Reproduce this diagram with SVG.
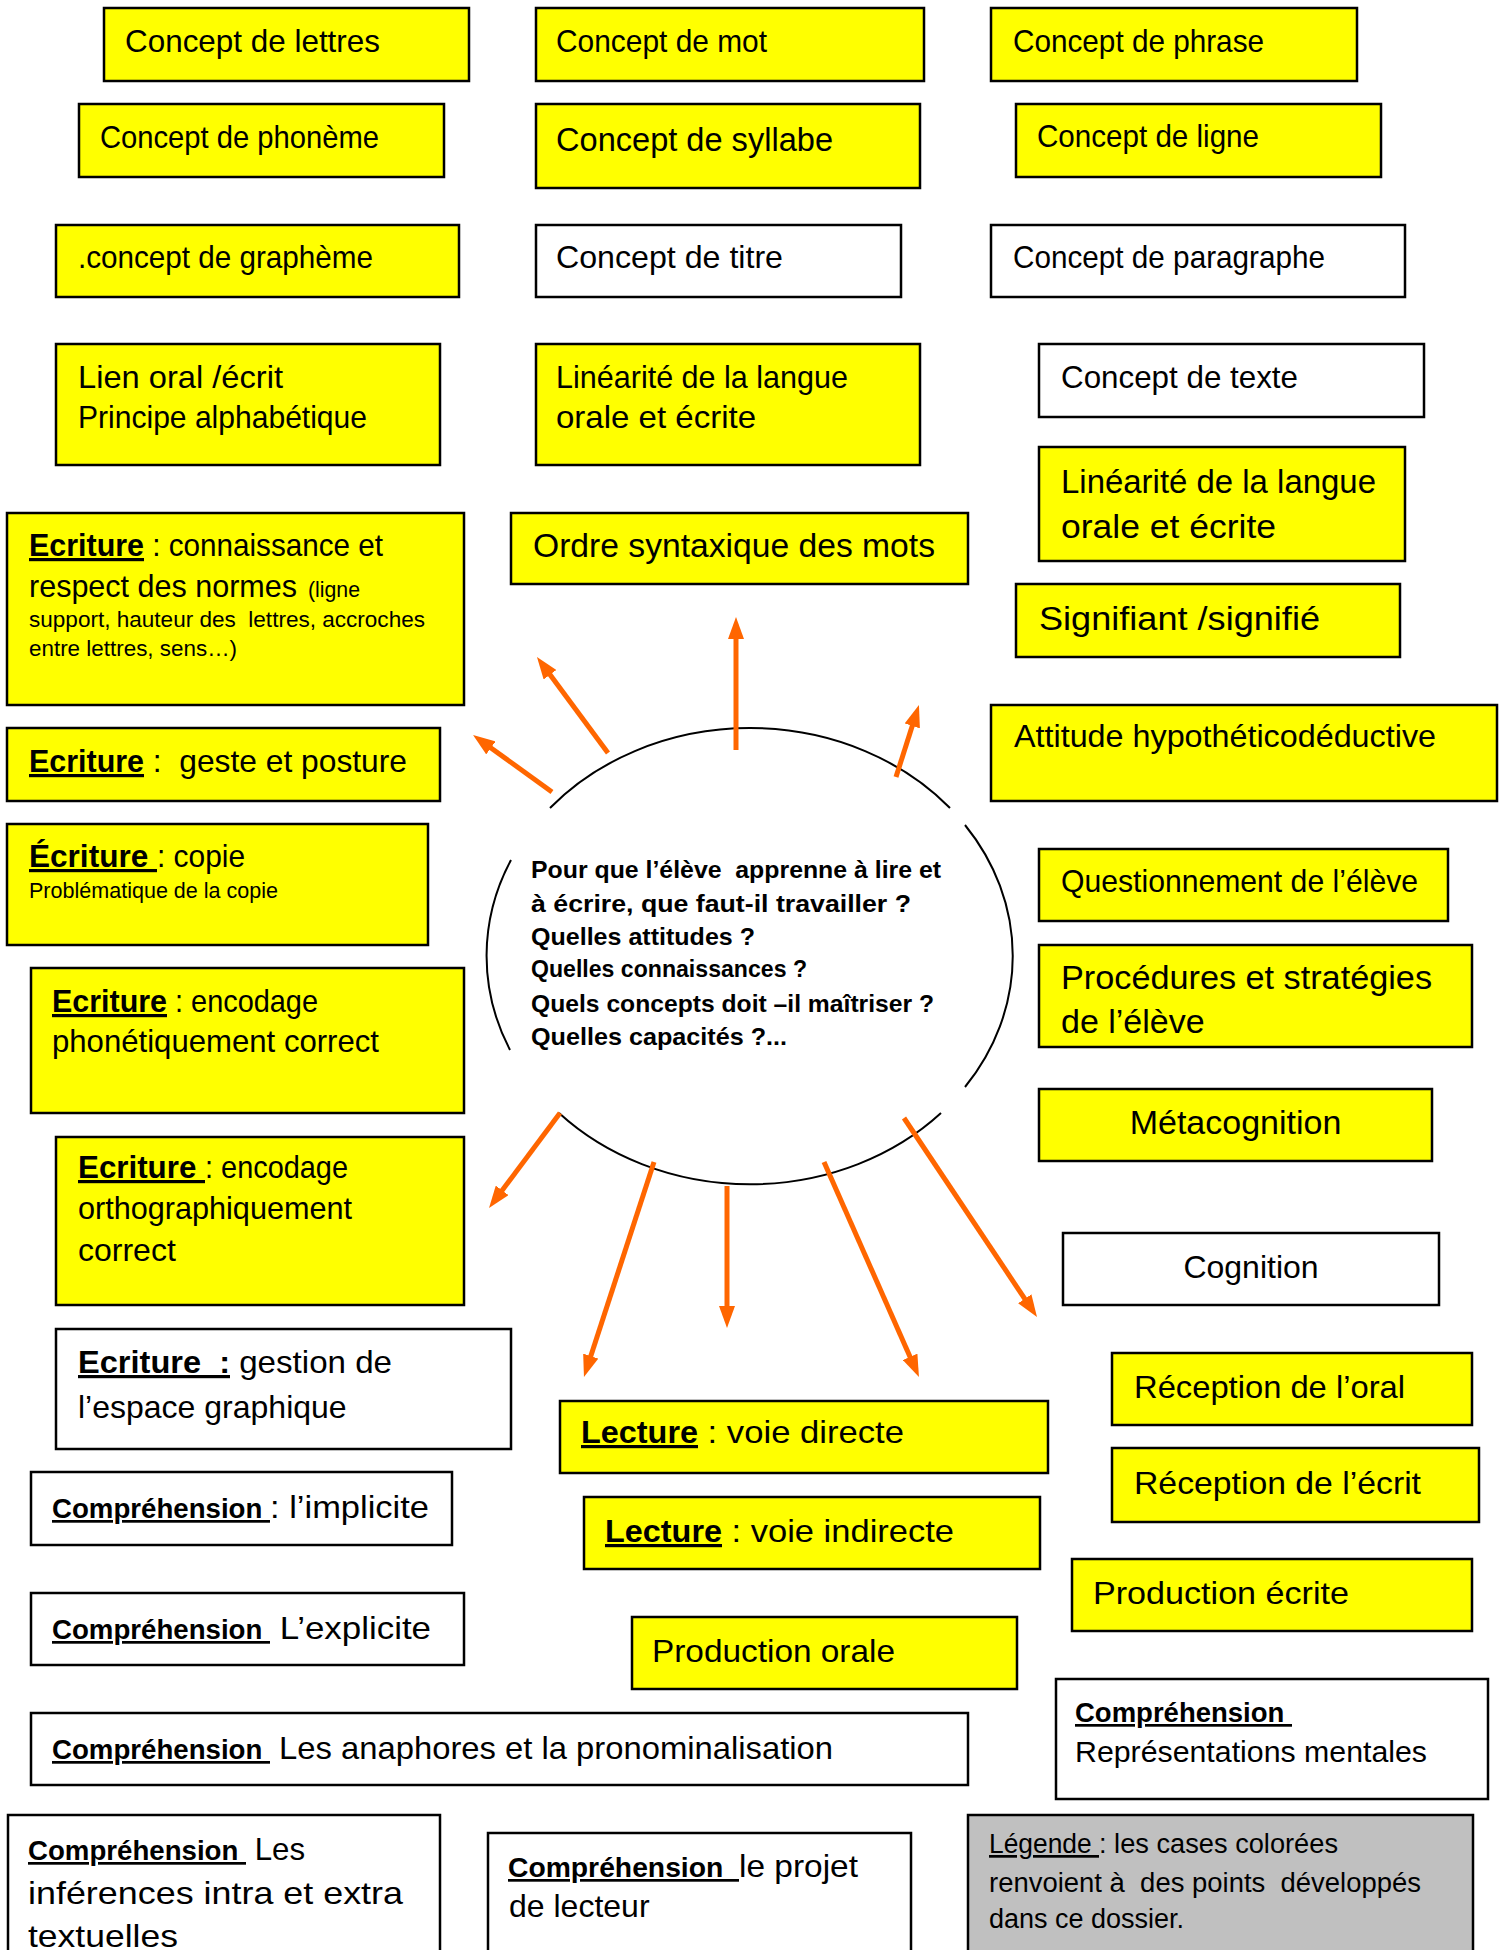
<svg xmlns="http://www.w3.org/2000/svg" width="1508" height="1950" viewBox="0 0 1508 1950">
<defs>
<style>
.box{stroke:#000;stroke-width:2.5}
.y{fill:#ffff00}
.w{fill:#fff}
.g{fill:#c0c0c0}
text{font-family:"Liberation Sans",Arial,sans-serif;fill:#000}
.t{font-size:32px}
.tl{font-size:34px}
.s{font-size:22px}
.u{font-weight:bold;text-decoration:underline}
.cb{font-size:27px;font-weight:bold;text-decoration:underline}
.c{font-size:24px;font-weight:bold}
.lg{font-size:27px}
.ul{text-decoration:underline}
.arrow{stroke:#ff6600;stroke-width:5;fill:none;marker-end:url(#ah)}
.ell{fill:none;stroke:#000;stroke-width:2}
</style>
<marker id="ah" markerUnits="userSpaceOnUse" markerWidth="22" markerHeight="16" refX="8" refY="8" orient="auto"><path d="M0,0 L22,8 L0,16 z" fill="#ff6600"/></marker>
</defs>
<rect width="1508" height="1950" fill="#fff"/>

<g id="n1"><rect class="box y" x="104" y="8" width="365" height="73"/><text class="t" x="125" y="52" textLength="255" lengthAdjust="spacingAndGlyphs">Concept de lettres</text></g>
<g id="n2"><rect class="box y" x="536" y="8" width="388" height="73"/><text class="t" x="556" y="52" textLength="211" lengthAdjust="spacingAndGlyphs">Concept de mot</text></g>
<g id="n3"><rect class="box y" x="991" y="8" width="366" height="73"/><text class="t" x="1013" y="52" textLength="251" lengthAdjust="spacingAndGlyphs">Concept de phrase</text></g>
<g id="n4"><rect class="box y" x="79" y="104" width="365" height="73"/><text class="t" x="100" y="148" textLength="279" lengthAdjust="spacingAndGlyphs">Concept de phonème</text></g>
<g id="n5"><rect class="box y" x="536" y="104" width="384" height="84"/><text class="tl" x="556" y="151" textLength="277" lengthAdjust="spacingAndGlyphs">Concept de syllabe</text></g>
<g id="n6"><rect class="box y" x="1016" y="104" width="365" height="73"/><text class="t" x="1037" y="147" textLength="222" lengthAdjust="spacingAndGlyphs">Concept de ligne</text></g>
<g id="n7"><rect class="box y" x="56" y="225" width="403" height="72"/><text class="t" x="78" y="268" textLength="295" lengthAdjust="spacingAndGlyphs">.concept de graphème</text></g>
<g id="n8"><rect class="box w" x="536" y="225" width="365" height="72"/><text class="t" x="556" y="268" textLength="227" lengthAdjust="spacingAndGlyphs">Concept de titre</text></g>
<g id="n9"><rect class="box w" x="991" y="225" width="414" height="72"/><text class="t" x="1013" y="268" textLength="312" lengthAdjust="spacingAndGlyphs">Concept de paragraphe</text></g>
<g id="n10"><rect class="box y" x="56" y="344" width="384" height="121"/><text class="t" x="78" y="388" textLength="205" lengthAdjust="spacingAndGlyphs">Lien oral /écrit</text><text class="t" x="78" y="428" textLength="289" lengthAdjust="spacingAndGlyphs">Principe alphabétique</text></g>
<g id="n11"><rect class="box y" x="536" y="344" width="384" height="121"/><text class="t" x="556" y="388" textLength="292" lengthAdjust="spacingAndGlyphs">Linéarité de la langue</text><text class="t" x="556" y="428" textLength="200" lengthAdjust="spacingAndGlyphs">orale et écrite</text></g>
<g id="n12"><rect class="box w" x="1039" y="344" width="385" height="73"/><text class="t" x="1061" y="388" textLength="237" lengthAdjust="spacingAndGlyphs">Concept de texte</text></g>
<g id="n13"><rect class="box y" x="1039" y="447" width="366" height="114"/><text class="tl" x="1061" y="493" textLength="315" lengthAdjust="spacingAndGlyphs">Linéarité de la langue</text><text class="tl" x="1061" y="538" textLength="215" lengthAdjust="spacingAndGlyphs">orale et écrite</text></g>
<g id="n14"><rect class="box y" x="7" y="513" width="457" height="192"/><text class="t" y="556" xml:space="preserve"><tspan class="u" x="29" textLength="115" lengthAdjust="spacingAndGlyphs">Ecriture</tspan><tspan x="144" textLength="239" lengthAdjust="spacingAndGlyphs"> : connaissance et</tspan></text><text class="t" y="597" xml:space="preserve"><tspan x="29" textLength="268" lengthAdjust="spacingAndGlyphs">respect des normes</tspan><tspan class="s" x="308" textLength="52" lengthAdjust="spacingAndGlyphs">(ligne</tspan></text><text class="s" x="29" y="627" xml:space="preserve" textLength="396" lengthAdjust="spacingAndGlyphs">support, hauteur des  lettres, accroches</text><text class="s" x="29" y="656" textLength="208" lengthAdjust="spacingAndGlyphs">entre lettres, sens…)</text></g>
<g id="n15"><rect class="box y" x="511" y="513" width="457" height="71"/><text class="tl" x="533" y="557" textLength="402" lengthAdjust="spacingAndGlyphs">Ordre syntaxique des mots</text></g>
<g id="n16"><rect class="box y" x="1016" y="584" width="384" height="73"/><text class="tl" x="1039" y="630" textLength="281" lengthAdjust="spacingAndGlyphs">Signifiant /signifié</text></g>
<g id="n17"><rect class="box y" x="7" y="728" width="433" height="73"/><text class="t" y="772" xml:space="preserve"><tspan class="u" x="29" textLength="115" lengthAdjust="spacingAndGlyphs">Ecriture</tspan><tspan x="144" textLength="263" lengthAdjust="spacingAndGlyphs"> :  geste et posture</tspan></text></g>
<g id="n18"><rect class="box y" x="991" y="705" width="506" height="96"/><text class="t" x="1014" y="747" textLength="422" lengthAdjust="spacingAndGlyphs">Attitude hypothéticodéductive</text></g>
<g id="n19"><rect class="box y" x="7" y="824" width="421" height="121"/><text class="t" y="867" xml:space="preserve"><tspan class="u" x="29" textLength="128" lengthAdjust="spacingAndGlyphs">Écriture </tspan><tspan x="157" textLength="88" lengthAdjust="spacingAndGlyphs">: copie</tspan></text><text class="s" x="29" y="898" textLength="249" lengthAdjust="spacingAndGlyphs">Problématique de la copie</text></g>
<g id="n20"><rect class="box y" x="1039" y="849" width="409" height="72"/><text class="t" x="1061" y="892" textLength="357" lengthAdjust="spacingAndGlyphs">Questionnement de l’élève</text></g>
<g id="n21"><rect class="box y" x="31" y="968" width="433" height="145"/><text class="t" y="1012" xml:space="preserve"><tspan class="u" x="52" textLength="115" lengthAdjust="spacingAndGlyphs">Ecriture</tspan><tspan x="167" textLength="151" lengthAdjust="spacingAndGlyphs"> : encodage</tspan></text><text class="t" x="52" y="1052" textLength="327" lengthAdjust="spacingAndGlyphs">phonétiquement correct</text></g>
<g id="n22"><rect class="box y" x="1039" y="945" width="433" height="102"/><text class="tl" x="1061" y="989" textLength="371" lengthAdjust="spacingAndGlyphs">Procédures et stratégies</text><text class="tl" x="1061" y="1033">de l’élève</text></g>
<g id="n23"><rect class="box y" x="1039" y="1089" width="393" height="72"/><text class="tl" x="1235.5" y="1134" text-anchor="middle">Métacognition</text></g>
<g id="n24"><rect class="box y" x="56" y="1137" width="408" height="168"/><text class="t" y="1178" xml:space="preserve"><tspan class="u" x="78" textLength="127" lengthAdjust="spacingAndGlyphs">Ecriture </tspan><tspan x="205" textLength="143" lengthAdjust="spacingAndGlyphs">: encodage</tspan></text><text class="t" x="78" y="1219" textLength="274" lengthAdjust="spacingAndGlyphs">orthographiquement</text><text class="t" x="78" y="1261">correct</text></g>
<g id="n25"><rect class="box w" x="1063" y="1233" width="376" height="72"/><text class="t" x="1251" y="1278" text-anchor="middle">Cognition</text></g>
<g id="n26"><rect class="box w" x="56" y="1329" width="455" height="120"/><text class="t" y="1373" xml:space="preserve"><tspan class="u" x="78" textLength="152" lengthAdjust="spacingAndGlyphs">Ecriture  :</tspan><tspan x="230" textLength="162" lengthAdjust="spacingAndGlyphs"> gestion de</tspan></text><text class="t" x="78" y="1418">l’espace graphique</text></g>
<g id="n27"><rect class="box y" x="1112" y="1353" width="360" height="72"/><text class="t" x="1134" y="1398" textLength="271" lengthAdjust="spacingAndGlyphs">Réception de l’oral</text></g>
<g id="n28"><rect class="box y" x="560" y="1401" width="488" height="72"/><text class="t" y="1443" xml:space="preserve"><tspan class="u" x="581" textLength="117" lengthAdjust="spacingAndGlyphs">Lecture</tspan><tspan x="698" textLength="206" lengthAdjust="spacingAndGlyphs"> : voie directe</tspan></text></g>
<g id="n29"><rect class="box w" x="31" y="1472" width="421" height="73"/><text class="t" y="1518" xml:space="preserve"><tspan class="cb" x="52" textLength="218" lengthAdjust="spacingAndGlyphs">Compréhension </tspan><tspan x="270" textLength="159" lengthAdjust="spacingAndGlyphs">: l’implicite</tspan></text></g>
<g id="n30"><rect class="box y" x="1112" y="1448" width="367" height="74"/><text class="t" x="1134" y="1494" textLength="287" lengthAdjust="spacingAndGlyphs">Réception de l’écrit</text></g>
<g id="n31"><rect class="box y" x="584" y="1497" width="456" height="72"/><text class="t" y="1542" xml:space="preserve"><tspan class="u" x="605" textLength="117" lengthAdjust="spacingAndGlyphs">Lecture</tspan><tspan x="722" textLength="232" lengthAdjust="spacingAndGlyphs"> : voie indirecte</tspan></text></g>
<g id="n32"><rect class="box y" x="1072" y="1559" width="400" height="72"/><text class="t" x="1093" y="1604" textLength="256" lengthAdjust="spacingAndGlyphs">Production écrite</text></g>
<g id="n33"><rect class="box w" x="31" y="1593" width="433" height="72"/><text class="t" y="1639" xml:space="preserve"><tspan class="cb" x="52" textLength="218" lengthAdjust="spacingAndGlyphs">Compréhension </tspan><tspan x="270" textLength="161" lengthAdjust="spacingAndGlyphs"> L’explicite</tspan></text></g>
<g id="n34"><rect class="box y" x="632" y="1617" width="385" height="72"/><text class="t" x="652" y="1662" textLength="243" lengthAdjust="spacingAndGlyphs">Production orale</text></g>
<g id="n35"><rect class="box w" x="31" y="1713" width="937" height="72"/><text class="t" y="1759" xml:space="preserve"><tspan class="cb" x="52" textLength="218" lengthAdjust="spacingAndGlyphs">Compréhension </tspan><tspan x="270" textLength="563" lengthAdjust="spacingAndGlyphs"> Les anaphores et la pronominalisation</tspan></text></g>
<g id="n36"><rect class="box w" x="1056" y="1679" width="432" height="120"/><text class="cb" x="1075" y="1722" xml:space="preserve" textLength="217" lengthAdjust="spacingAndGlyphs">Compréhension </text><text class="t" x="1075" y="1762" style="font-size:30px" textLength="352" lengthAdjust="spacingAndGlyphs">Représentations mentales</text></g>
<g id="n37"><rect class="box w" x="8" y="1815" width="432" height="150"/><text class="t" y="1860" xml:space="preserve"><tspan class="cb" x="28" textLength="218" lengthAdjust="spacingAndGlyphs">Compréhension </tspan><tspan x="246" textLength="59" lengthAdjust="spacingAndGlyphs"> Les</tspan></text><text class="t" x="28" y="1904" textLength="375" lengthAdjust="spacingAndGlyphs">inférences intra et extra</text><text class="t" x="28" y="1947" textLength="150" lengthAdjust="spacingAndGlyphs">textuelles</text></g>
<g id="n38"><rect class="box w" x="488" y="1833" width="423" height="130"/><text class="t" y="1877" xml:space="preserve"><tspan class="cb" x="508" textLength="231" lengthAdjust="spacingAndGlyphs">Compréhension  </tspan><tspan x="739" textLength="119" lengthAdjust="spacingAndGlyphs">le projet</tspan></text><text class="t" x="509" y="1917">de lecteur</text></g>
<g id="n39"><rect class="box g" x="968" y="1815" width="505" height="150"/><text class="lg" y="1853" xml:space="preserve"><tspan class="ul" x="989" textLength="110" lengthAdjust="spacingAndGlyphs">Légende </tspan><tspan x="1099" textLength="239" lengthAdjust="spacingAndGlyphs">: les cases colorées</tspan></text><text class="lg" x="989" y="1892" xml:space="preserve" textLength="432" lengthAdjust="spacingAndGlyphs">renvoient à  des points  développés</text><text class="lg" x="989" y="1928">dans ce dossier.</text></g>

<g id="center">
<path class="ell" d="M550,808 A263,228 0 0 1 950,808"/>
<path class="ell" d="M965,825 A263,228 0 0 1 965,1087"/>
<path class="ell" d="M941,1113 A263,228 0 0 1 559,1113"/>
<path class="ell" d="M510,1050 A263,228 0 0 1 511,860"/>
<text class="c" x="531" y="878" xml:space="preserve" textLength="410" lengthAdjust="spacingAndGlyphs">Pour que l’élève  apprenne à lire et</text>
<text class="c" x="531" y="912" textLength="380" lengthAdjust="spacingAndGlyphs">à écrire, que faut-il travailler ?</text>
<text class="c" x="531" y="945" textLength="224" lengthAdjust="spacingAndGlyphs">Quelles attitudes ?</text>
<text class="c" x="531" y="977" textLength="276" lengthAdjust="spacingAndGlyphs">Quelles connaissances ?</text>
<text class="c" x="531" y="1012" textLength="403" lengthAdjust="spacingAndGlyphs">Quels concepts doit –il maîtriser ?</text>
<text class="c" x="531" y="1045" textLength="256" lengthAdjust="spacingAndGlyphs">Quelles capacités ?...</text>
</g>

<g id="connectors">
<line class="arrow" x1="552" y1="792" x2="484.4" y2="743.2"/>
<line class="arrow" x1="608" y1="753" x2="545.3" y2="668.3"/>
<line class="arrow" x1="736" y1="750" x2="736" y2="631"/>
<line class="arrow" x1="896" y1="777" x2="914.7" y2="718.3"/>
<line class="arrow" x1="560" y1="1113" x2="497.4" y2="1196.8"/>
<line class="arrow" x1="654" y1="1162" x2="588.3" y2="1363.7"/>
<line class="arrow" x1="727" y1="1186" x2="727" y2="1314"/>
<line class="arrow" x1="824" y1="1162" x2="913.3" y2="1364.2"/>
<line class="arrow" x1="904" y1="1118" x2="1029.2" y2="1305.4"/>
</g>
</svg>
